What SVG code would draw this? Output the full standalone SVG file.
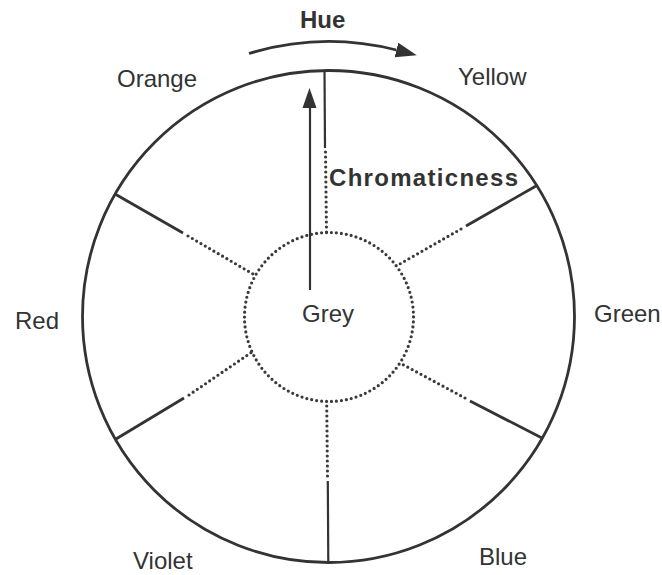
<svg xmlns="http://www.w3.org/2000/svg" width="662" height="575" viewBox="0 0 662 575">
<style>
text{font-family:"Liberation Sans",Arial,sans-serif;font-size:24px;fill:#333}
.b{font-weight:bold}
.solid{stroke:#333;stroke-width:2.8;fill:none;stroke-linecap:butt}
.thin{stroke:#333;stroke-width:2.2;fill:none}
.dot{stroke:#3a3a3a;stroke-width:3.2;fill:none;stroke-linecap:round;stroke-dasharray:0 5}
</style>
<defs>
<marker id="ah" markerUnits="userSpaceOnUse" markerWidth="22" markerHeight="16" refX="0" refY="7.5" orient="auto">
<path d="M0,0 L21,7.5 L0,15 Z" fill="#333"/>
</marker>
</defs>
<rect width="662" height="575" fill="#fff"/>
<g id="wheel">
<circle cx="328.5" cy="316.5" r="246" class="solid"/>
</g>
<g id="grey">
<circle cx="329" cy="317" r="84.5" class="dot"/>
<text x="302" y="322">Grey</text>
</g>
<g id="orange"><text x="117" y="87">Orange</text></g>
<g id="yellow"><text x="458" y="85">Yellow</text></g>
<g id="red"><text x="15" y="329">Red</text></g>
<g id="green"><text x="594" y="322">Green</text></g>
<g id="violet"><text x="133" y="569">Violet</text></g>
<g id="blue"><text x="479" y="565">Blue</text></g>
<g id="connectors">
<line x1="324.5" y1="70" x2="325" y2="148" class="thin"/>
<line x1="325.5" y1="152" x2="326.5" y2="232" class="dot"/>
<line x1="328.3" y1="563" x2="327.8" y2="481" class="thin"/>
<line x1="327.5" y1="476" x2="326.7" y2="402" class="dot"/>
<line x1="115" y1="194" x2="183" y2="233" class="solid"/>
<line x1="188" y1="236" x2="253" y2="274" class="dot"/>
<line x1="536" y1="186" x2="466" y2="226" class="solid"/>
<line x1="461" y1="229" x2="398" y2="265" class="dot"/>
<line x1="116" y1="439" x2="184" y2="398" class="solid"/>
<line x1="189" y1="395" x2="252" y2="352" class="dot"/>
<line x1="542" y1="438" x2="470" y2="401" class="solid"/>
<line x1="465" y1="398" x2="400" y2="363" class="dot"/>
<path d="M249,53.5 A275,275 0 0 1 396.4,50" class="solid" stroke-width="3.2" marker-end="url(#ah)"/>
<line x1="310" y1="290" x2="310" y2="106" class="thin"/>
<polygon points="309.5,88 302.5,108 316.5,108" fill="#333"/>
</g>
<g id="labels">
<text x="300" y="28" class="b">Hue</text>
<text x="329" y="186" class="b" textLength="189" lengthAdjust="spacing">Chromaticness</text>
</g>
</svg>
